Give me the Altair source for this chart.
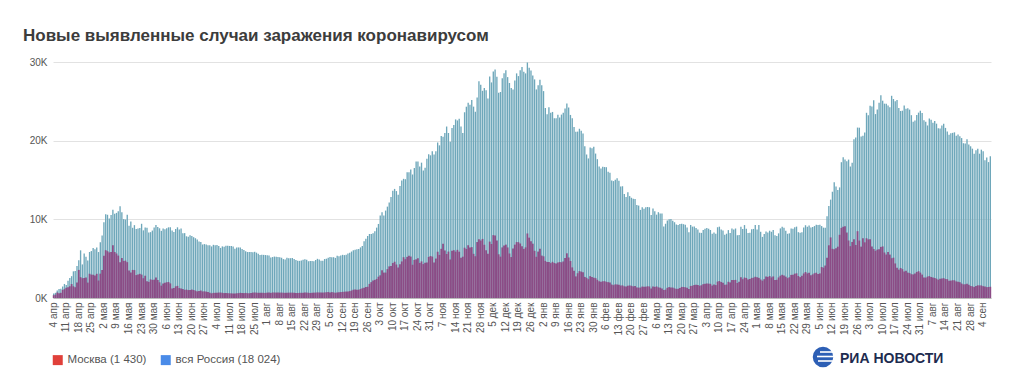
import altair as alt
import pandas as pd

FONT = "Liberation Sans, Arial, sans-serif"

title_text = "Новые выявленные случаи заражения коронавирусом"
months_ru = ["янв", "фев", "мар", "апр", "мая", "июн", "июл", "авг", "сен", "окт", "ноя", "дек"]
start_date = "2020-04-04"

# Daily new cases, all of Russia (from 4 Apr 2020)
russia_2020 = [
    582, 658, 954, 1154, 1175, 1459, 1786, 1667, 2186, 2558, 2774, 3388, 3448, 4070, 4785, 6060, 4268, 5642, 5236, 4774, 5849, 5966, 6361, 6198, 6411, 5841, 7099,
    7933, 9623, 10633, 10581, 10102, 10559, 11231, 10699, 10817, 11012, 11656, 10899, 10028, 9974, 10598, 9200, 9709, 8926, 9263, 8764, 8849, 8894, 9434, 8599, 8946, 8915, 8338, 8371, 8572, 8952, 9268,
    9035, 8863, 8536, 8831, 8726, 8855, 8984, 8985, 8595, 8404, 8779, 8987, 8706, 8835, 8246, 8248, 7843, 7790, 7972, 7889, 7728, 7600, 7425, 7176, 7113, 6800, 6852, 6791, 6719, 6693,
    6556, 6760, 6718, 6736, 6611, 6368, 6562, 6509, 6635, 6632, 6615, 6611, 6537, 6248, 6422, 6428, 6406, 6234, 6109, 5940, 5842, 5862, 5848, 5811, 5871, 5765, 5635, 5475, 5509, 5482, 5462,
    5427, 5394, 5159, 5204, 5267, 5241, 5212, 5189, 5118, 4945, 4892, 5102, 5057, 5061, 5076, 4969, 4839, 4748, 4718, 4767, 4870, 4921, 4852, 4676, 4696, 4711, 4676, 4829, 4980, 4897, 4729,
    4729, 4952, 4995, 5110, 5205, 5195, 5185, 5099, 5363, 5310, 5406, 5488, 5449, 5509, 5670, 5762, 5905, 6065, 6148, 6196, 6215, 6431, 6595, 7212, 7523, 7867, 8135, 8135, 8232, 8481,
    8945, 9412, 10499, 10888, 10499, 11115, 11615, 12126, 12846, 13634, 13868, 13592, 13115, 14231, 14926, 15150, 15099, 15982, 15982, 16319, 15700, 16521, 17340, 17347, 16710, 17205, 16202, 16550, 17717, 18283, 18140,
    18665, 18257, 18648, 19768, 19404, 20582, 20498, 20977, 21798, 20977, 19851, 21608, 21983, 22702, 22572, 22778, 21798, 20985, 23610, 24318, 24822, 24581, 25173, 24326, 23675, 25487, 27543, 27100, 26338, 26683,
    26402, 25345, 28145, 27403, 28782, 29039, 28137, 26097, 26190, 27927, 28585, 28948, 28080, 27328, 26689, 26509, 27655, 28552, 28209, 28948, 29350, 28776, 28552, 29935, 29258, 28928, 28284, 27787, 26513, 27039, 27747,
]
russia_2021 = [
    27029, 26301, 24150, 23351, 24246, 23541, 23652, 22850, 22851, 23309, 22934, 23315, 23541, 24092, 24715, 24217, 23270, 22857, 21734, 21127, 21152, 21513, 21262, 20921, 19290, 18241, 17741, 19138, 19032, 19238, 18359,
    17648, 16714, 16474, 16688, 16643, 16627, 16048, 15916, 14928, 14861, 15038, 15211, 14916, 14185, 14207, 13233, 12828, 13433, 12953, 12742, 12604, 12576, 11823, 11749, 11198, 11534, 11359, 11529,
    11571, 11534, 10565, 11385, 11024, 10595, 10908, 10753, 10754, 9079, 9437, 9851, 9998, 10036, 9819, 9632, 9352, 9285, 9393, 9453, 9383, 9299, 8956, 8369, 9284, 9073, 9088, 8885, 8711, 8304, 8277,
    8646, 8792, 8907, 8806, 8646, 8162, 8328, 8173, 8996, 9068, 8702, 8589, 8053, 8173, 8632, 8271, 8840, 8711, 8835, 7972, 8017, 9072, 8761, 9270, 8814, 8277, 8294, 8731, 8780, 9284,
    8697, 9270, 8419, 7770, 8135, 8455, 8328, 8554, 8419, 8633, 7975, 7884, 8217, 8846, 9073, 8926, 8554, 8162, 8217, 8828, 8793, 9004, 9074, 8367, 8295, 8373, 8947, 9252, 9068, 9208, 8951,
    9022, 9145, 9327, 9289, 9301, 9143, 8947, 8931, 10407, 11699, 12505, 13510, 14723, 14185, 13721, 14057, 17262, 17906, 17611, 17378, 17594, 16715, 17177, 20182, 20393, 21665, 21650, 20538, 20616, 21042,
    23543, 23218, 24439, 24353, 25142, 23378, 23962, 24818, 25766, 25082, 24703, 24702, 24471, 24237, 25704, 25293, 25018, 25173, 24166, 23770, 23811, 24471, 24072, 24107, 23947, 23239, 22420, 22576, 23270, 23564, 23807,
    23508, 22589, 22411, 21932, 22804, 22660, 22277, 22498, 22160, 21571, 21559, 21932, 22144, 21624, 21178, 20765, 20958, 20992, 21058, 20616, 20785, 20564, 20329, 19676, 19630, 20174, 19509, 19286, 18984, 18325, 18780,
    18985, 18341, 18856, 18645, 17525, 17856, 17274, 18024,
]

# Daily new cases, Moscow
moscow_2020 = [
    355, 434, 697, 591, 660, 1030, 1124, 1306, 1355, 1489, 1774, 1489, 1370, 1959, 3570, 2649, 2512, 2548, 2612, 1959, 3083, 2971, 2957, 2871, 3075, 2220, 3093,
    3561, 5358, 6079, 5948, 5795, 5858, 6703, 5846, 5667, 5392, 4541, 5083, 4712, 4748, 4555, 3505, 3238, 3570, 3545, 2913, 2988, 3074, 2972, 2516, 2830, 2140, 2054, 2367, 2297, 2332, 2595,
    2286, 1992, 1572, 1842, 1951, 2001, 2033, 1855, 1195, 1282, 1477, 1541, 1261, 1195, 1139, 1036, 1066, 1007, 1005, 1072, 1016, 930, 843, 875, 946, 832, 845, 811, 757, 671,
    594, 648, 659, 668, 690, 691, 659, 623, 640, 616, 596, 589, 585, 575, 603, 618, 661, 624, 621, 649, 613, 602, 624, 688, 692, 677, 661, 679, 667, 656, 643,
    682, 690, 648, 700, 691, 688, 695, 681, 689, 663, 655, 660, 676, 679, 678, 670, 650, 641, 658, 659, 672, 686, 686, 661, 633, 656, 680, 684, 711, 699, 689,
    691, 703, 729, 754, 711, 748, 711, 657, 706, 717, 751, 777, 794, 820, 836, 874, 946, 1050, 1095, 1051, 1056, 1150, 1231, 1300, 1393, 1430, 1792, 2016, 2216, 2300,
    2424, 2704, 2884, 3537, 3229, 3229, 3670, 4017, 4082, 4443, 4610, 4258, 3876, 4295, 4648, 5186, 4935, 5229, 5376, 5268, 4228, 4843, 4916, 5061, 4455, 4650, 4312, 4484, 4515, 5224, 5334,
    5261, 4521, 5012, 5882, 5478, 6253, 6897, 6046, 5595, 5903, 4897, 5997, 6075, 5891, 6121, 5887, 5105, 5253, 6395, 6232, 6707, 6410, 6466, 5617, 5311, 7113, 7475, 7306, 7510, 6768,
    6067, 5621, 7168, 6868, 7993, 7933, 7310, 5558, 5255, 6430, 6681, 6786, 6425, 5658, 5205, 6302, 6782, 7105, 7095, 6927, 6578, 6238, 6438, 8203, 7672, 7204, 6904, 6000, 5239, 5901, 6256,
]
moscow_2021 = [
    5391, 5300, 4720, 4568, 4570, 4434, 4597, 4451, 4400, 4518, 4570, 4536, 4647, 5075, 5682, 5152, 4708, 3890, 3470, 2747, 3148, 3417, 3354, 3259, 2680, 2565, 2390, 2778, 2678, 2577, 2523,
    2309, 2125, 2054, 2122, 2136, 2060, 2014, 1956, 1710, 1635, 1736, 1708, 1697, 1584, 1603, 1485, 1459, 1560, 1593, 1551, 1479, 1511, 1343, 1316, 1322, 1452, 1429, 1440,
    1486, 1466, 1208, 1475, 1411, 1472, 1353, 1314, 1220, 1018, 1060, 1296, 1384, 1345, 1324, 1227, 1154, 1182, 1285, 1412, 1395, 1362, 1303, 1155, 1525, 1562, 1659, 1695, 1655, 1557, 1621,
    1758, 1802, 1845, 1825, 1800, 1583, 1730, 1641, 2083, 2158, 2032, 1948, 1683, 1706, 2063, 1980, 2300, 2283, 2301, 1908, 2073, 2622, 2391, 2601, 2543, 2349, 2402, 2550, 2579, 2698,
    2643, 2562, 2350, 2196, 2393, 2735, 2680, 2793, 2615, 2742, 2287, 2315, 2614, 2831, 2950, 2871, 2711, 2523, 2634, 2938, 2948, 3092, 3136, 2797, 2652, 2819, 3118, 3309, 3129, 3195, 2905,
    3004, 3148, 3212, 3052, 3125, 3936, 3851, 4124, 5114, 6701, 7704, 6252, 6195, 6309, 6525, 8035, 8911, 9056, 9120, 8321, 7311, 6589, 7125, 7484, 6742, 8494, 7305, 6531, 7597, 7076,
    7597, 7446, 7478, 6557, 6234, 5997, 6152, 6196, 6495, 6556, 5784, 5524, 5847, 5520, 5057, 5126, 4391, 3856, 3602, 3818, 3669, 3370, 3465, 3228, 3169, 3022, 2997, 3126, 3307, 3409, 3224,
    2977, 2616, 2592, 2717, 2783, 2673, 2596, 2543, 2450, 2323, 2432, 2472, 2522, 2412, 2394, 2191, 2210, 2255, 2247, 2108, 2074, 2011, 1836, 1730, 1745, 1822, 1685, 1534, 1489, 1393, 1541,
    1609, 1601, 1592, 1502, 1446, 1379, 1396, 1430,
]

y_ticks = [0, 10000, 20000, 30000]

russia = russia_2020 + russia_2021
moscow = moscow_2020 + moscow_2021
assert len(russia_2020) == 272 and len(moscow_2020) == 272, (len(russia_2020), len(moscow_2020))
assert len(russia_2021) == 251 and len(moscow_2021) == 251, (len(russia_2021), len(moscow_2021))

dates = pd.date_range(start_date, periods=len(russia), freq="D").strftime("%Y-%m-%d").tolist()
tick_dates = dates[::7]

df = pd.DataFrame({"d": dates, "russia": russia, "moscow": moscow})


def fmt(n):
    return f"{n:,}".replace(",", " ")


legend_labels = [f"Москва ({fmt(moscow[-1])})", f"вся Россия ({fmt(russia[-1])})"]

month_arr = "[" + ",".join(f"'{m}'" for m in months_ru) + "]"
x_label_expr = (
    "toNumber(substring(datum.value, 8, 10)) + ' ' + "
    + month_arr
    + "[toNumber(substring(datum.value, 5, 7)) - 1]"
)

x_enc = alt.X(
    "d:O",
    scale=alt.Scale(paddingInner=0.25, paddingOuter=0),
    axis=alt.Axis(
        values=tick_dates,
        labelExpr=x_label_expr,
        labelAngle=270,
        labelAlign="right",
        labelBaseline="middle",
        labelFontSize=10,
        labelFont=FONT,
        labelColor="#555555",
        labelPadding=4,
        labelOverlap=False,
        ticks=False,
        domain=True,
        domainColor="#bbbbbb",
        grid=False,
        title=None,
    ),
)

y_axis = alt.Axis(
    values=y_ticks,
    labelExpr="datum.value / 1000 + 'K'",
    grid=True,
    gridColor="#e2e2e2",
    domain=False,
    ticks=False,
    labelFontSize=10,
    labelFont=FONT,
    labelColor="#555555",
    labelPadding=6,
    title=None,
)
y_scale = alt.Scale(domain=[0, 30000], nice=False)

base = alt.Chart(df).encode(x=x_enc)

russia_bars = base.mark_bar(color="#6ea7ba").encode(
    y=alt.Y("russia:Q", scale=y_scale, axis=y_axis)
)

moscow_bars = base.mark_bar(color="#8b4c86", width={"band": 1.3}).encode(
    y=alt.Y("moscow:Q", scale=y_scale, axis=y_axis)
)

legend_df = pd.DataFrame({"s": legend_labels})
legend_layer = alt.Chart(legend_df).mark_square(opacity=0).encode(
    x=alt.value(0),
    y=alt.value(0),
    color=alt.Color(
        "s:N",
        scale=alt.Scale(domain=legend_labels, range=["#e0403a", "#4a8be8"]),
        legend=alt.Legend(
            orient="none",
            legendX=-1,
            legendY=292,
            direction="horizontal",
            title=None,
            symbolType="square",
            symbolSize=100,
            symbolOpacity=1,
            symbolStrokeWidth=0,
            labelFontSize=11.5,
            labelFont=FONT,
            labelColor="#555555",
            columnPadding=13,
            padding=0,
        ),
    ),
)

title_layer = alt.Chart(pd.DataFrame({"t": [title_text]})).mark_text(
    align="left", baseline="alphabetic", fontSize=17, fontWeight="bold",
    font=FONT, color="#3c3c3c",
).encode(text="t:N", x=alt.value(-30), y=alt.value(-21))

logo_circle = alt.Chart(pd.DataFrame({"k": [0]})).mark_point(
    filled=True, shape="circle", size=420, color="#2d5fb5", opacity=1
).encode(x=alt.value(770), y=alt.value(295))

logo_rules = [
    alt.Chart(pd.DataFrame({"k": [0]})).mark_rule(color="white", strokeWidth=1.6).encode(
        x=alt.value(x0), x2=alt.value(782), y=alt.value(yy)
    )
    for x0, yy in [(767, 290), (764, 294.5), (765, 299)]
]

logo_text = alt.Chart(pd.DataFrame({"t": ["РИА НОВОСТИ"]})).mark_text(
    align="left", baseline="alphabetic", fontSize=14, fontWeight="bold",
    font=FONT, color="#1d2b4f",
).encode(text="t:N", x=alt.value(787), y=alt.value(301))

chart = alt.layer(
    russia_bars, moscow_bars, legend_layer, title_layer, logo_circle, *logo_rules, logo_text
).properties(
    width=938,
    height=236,
    padding={"left": 45, "top": 54, "right": 25, "bottom": 83},
    autosize=alt.AutoSizeParams(type="none"),
    background="white",
).configure_view(stroke=None)

chart.save("out.html", embed_options={"renderer": "svg", "actions": False})
